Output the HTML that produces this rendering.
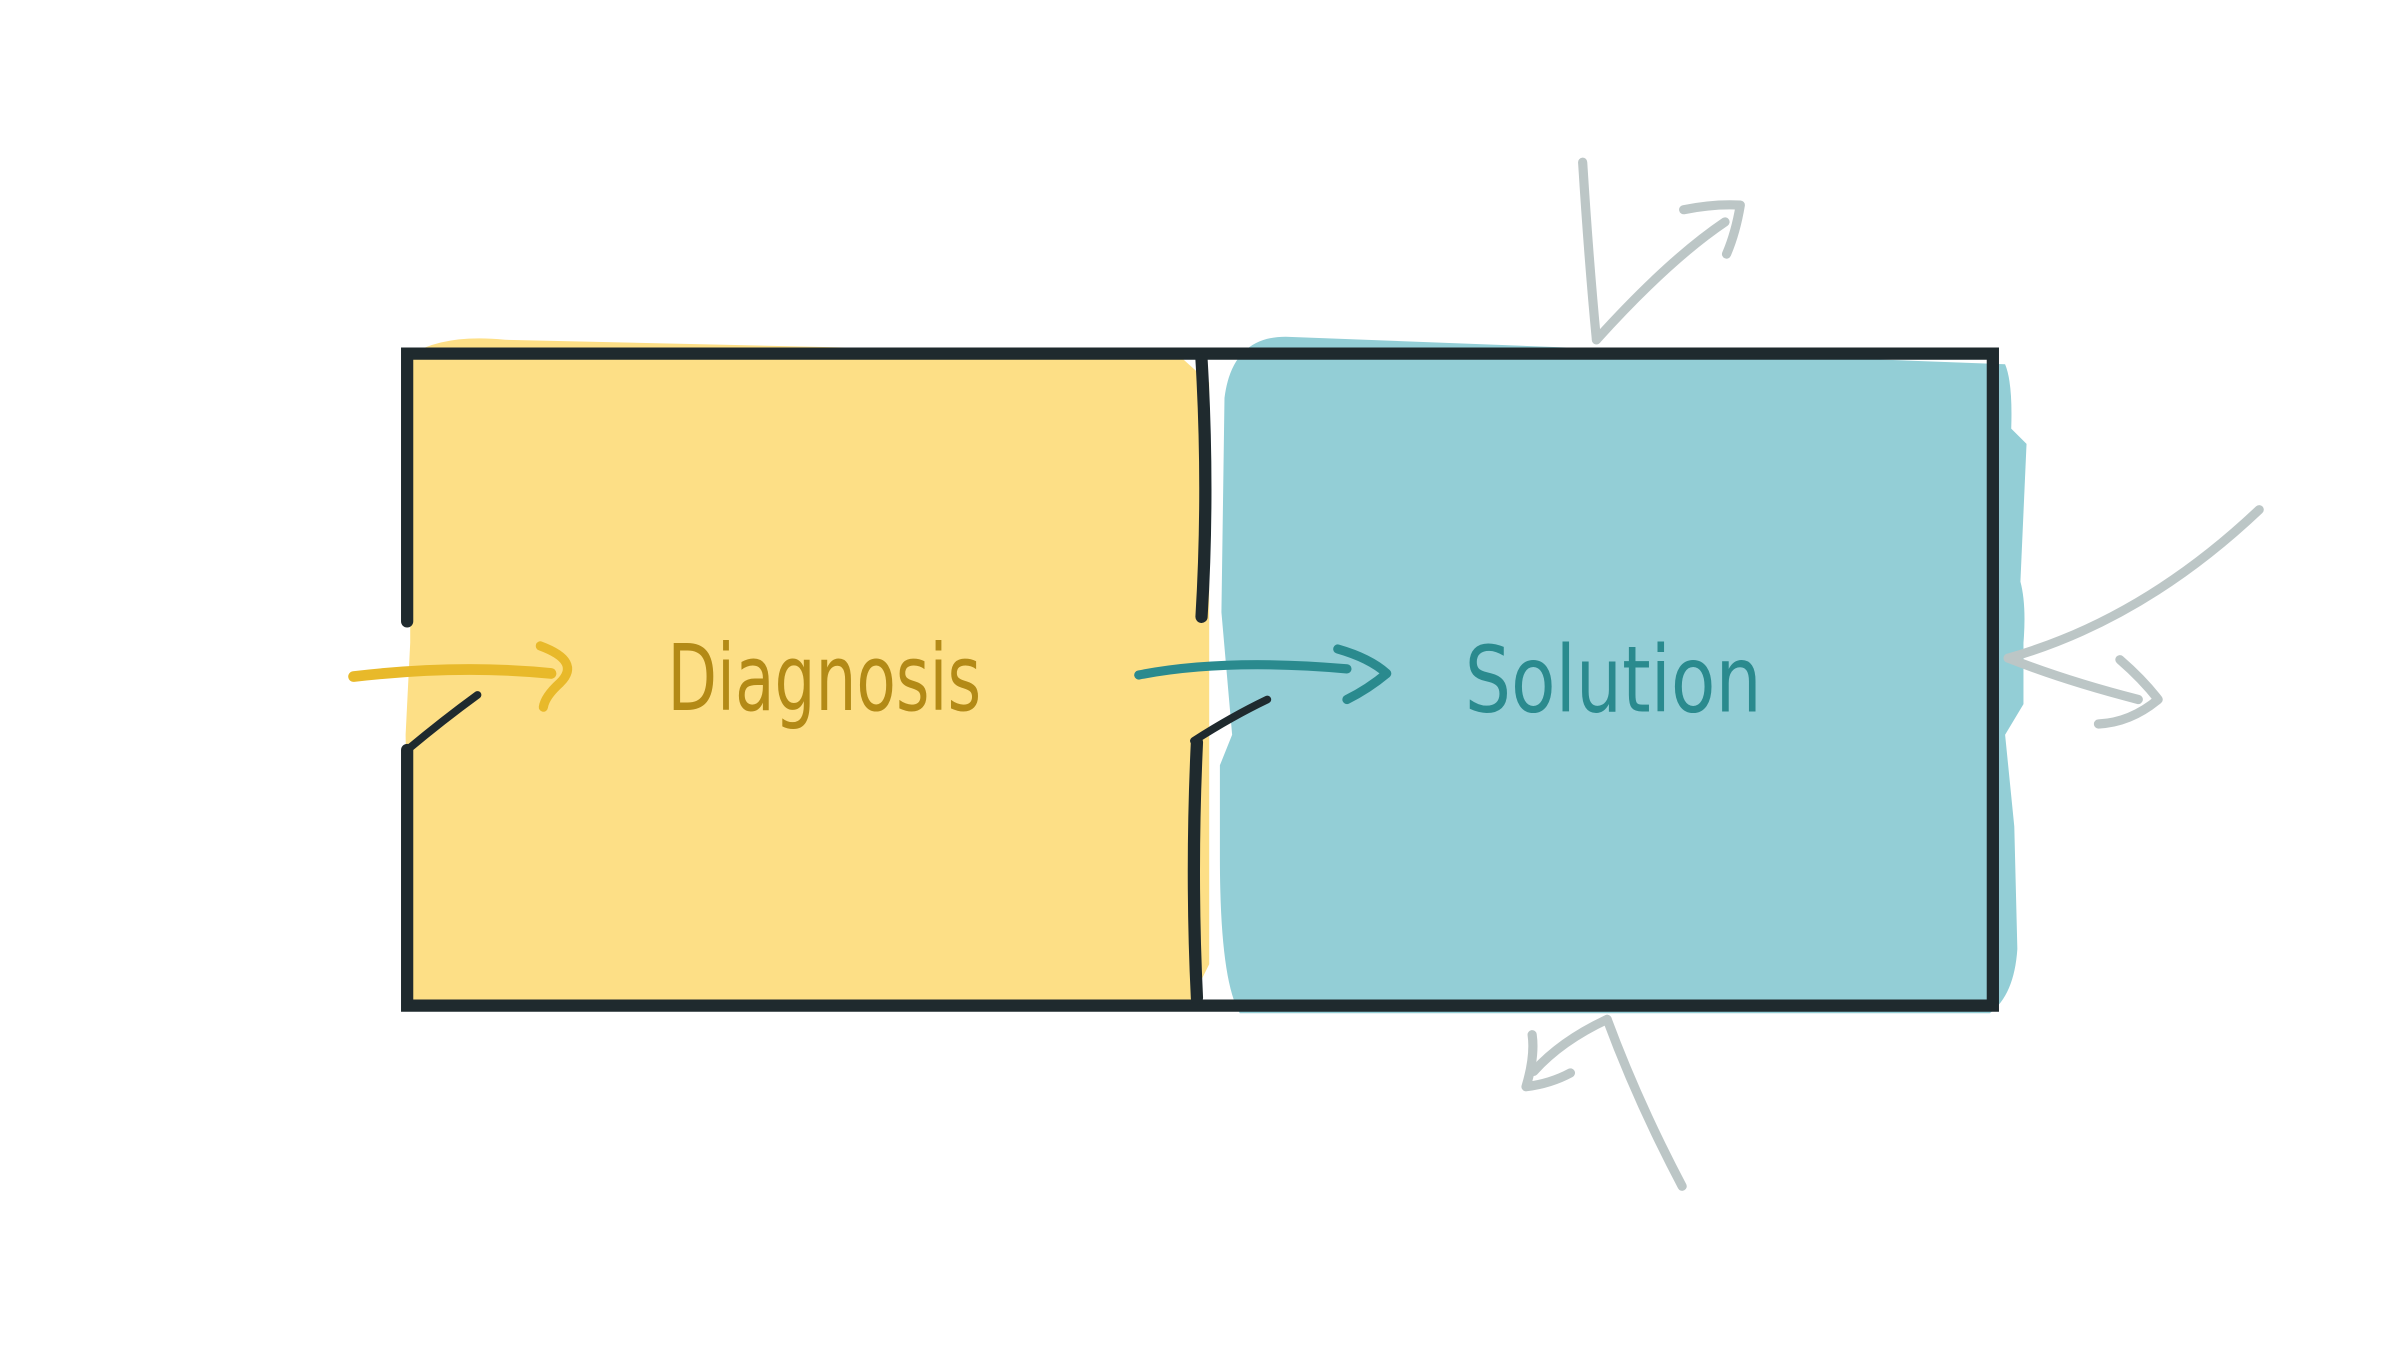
<!DOCTYPE html>
<html><head><style>
html,body{margin:0;padding:0;background:#fff;width:2400px;height:1350px;overflow:hidden}
svg{display:block}
</style></head><body>
<svg width="2400" height="1350" viewBox="0 0 1568 882" xmlns="http://www.w3.org/2000/svg">
<rect width="1568" height="882" fill="#fff"/>
<!-- fills -->
<path d="M268,232 Q290,218 330,222 L770,232 L790,250 L790,630 L775,660 L268,660 L265,480 L268,420 Z" fill="#FDDF86"/>
<path d="M800,260 Q805,220 840,220 L1310,238 Q1315,250 1314,280 L1324,290 L1320,380 Q1324,395 1322,420 L1322,460 L1310,480 L1316,540 L1318,620 Q1316,650 1300,662 L810,662 Q797,640 797,560 L797,500 L805,480 L798,400 Z" fill="#93CED6"/>
<!-- frame -->
<g stroke="#1f2a2e" stroke-width="8" fill="none" stroke-linecap="round">
<path d="M266,406 L266,231 L1302,231 L1302,657 L266,657 L266,490"/>
<path d="M785,235 Q790,320 785,403"/>
<path d="M782,485 Q778,570 782,652"/>
</g>
<g stroke="#1f2a2e" stroke-width="5" fill="none" stroke-linecap="round">
<path d="M266,490 Q290,470 312,454"/>
<path d="M780,484 Q805,468 828,457"/>
</g>
<!-- yellow arrow -->
<g stroke="#E8B92A" fill="none" stroke-linecap="round" stroke-linejoin="round">
<path d="M231,442 Q300,434 360,440" stroke-width="7"/>
<path d="M353,422 Q380,432 366,446 Q356,455 355,462" stroke-width="6"/>
</g>
<text x="436" y="464" textLength="205" lengthAdjust="spacingAndGlyphs" font-family="'DejaVu Sans', 'Liberation Sans', sans-serif" font-size="60" fill="#b38a16">Diagnosis</text>
<!-- teal arrow -->
<g stroke="#2a8a8e" fill="none" stroke-linecap="round" stroke-linejoin="round">
<path d="M744,441 Q800,430 880,437" stroke-width="6"/>
<path d="M874,424 Q895,430 906,440 Q894,450 880,457" stroke-width="6"/>
</g>
<text x="957" y="465" textLength="194" lengthAdjust="spacingAndGlyphs" font-family="'DejaVu Sans', 'Liberation Sans', sans-serif" font-size="60" fill="#2a8a8e">Solution</text>
<!-- gray arrows -->
<g stroke="#bcc6c6" fill="none" stroke-linecap="round" stroke-linejoin="round" stroke-width="6">
<path d="M1034,106 Q1038,170 1043,222"/>
<path d="M1043,222 Q1090,170 1127,145"/>
<path d="M1100,137 Q1120,133 1137,134 Q1134,152 1128,166"/>
<path d="M1476,333 Q1400,405 1312,430"/>
<path d="M1312,430 Q1350,445 1397,457"/>
<path d="M1385,431 Q1400,444 1410,457 Q1392,472 1371,473"/>
<path d="M1099,775 Q1070,720 1050,666"/>
<path d="M1050,666 Q1020,680 1002,700"/>
<path d="M1001,676 Q1003,690 997,710 Q1013,708 1026,701"/>
</g>
</svg>
</body></html>
